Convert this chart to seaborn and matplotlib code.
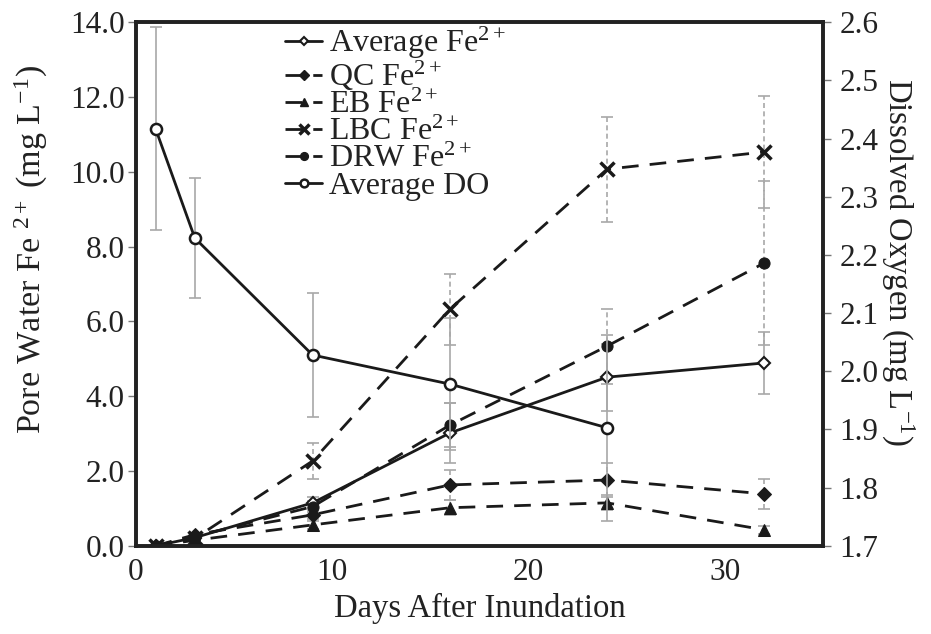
import matplotlib
matplotlib.use("Agg")
import matplotlib.pyplot as plt
import seaborn as sns
import pandas as pd
from matplotlib.lines import Line2D

# Sampling days and measured means / standard errors
days = [1, 3, 9, 16, 24, 32]
avg_fe = [0.0, 0.22, 1.15, 3.02, 4.51, 4.89]
avg_fe_err = [0.03, 0.05, 0.15, 0.8, 0.9, 0.84]
qc_fe = [0.0, 0.30, 0.83, 1.63, 1.76, 1.39]
qc_err = [0.03, 0.05, 0.12, 0.4, 0.45, 0.4]
eb_fe = [0.0, 0.15, 0.56, 1.02, 1.15, 0.43]
eb_err = [0.03, 0.05, 0.1, 0.2, 0.2, 0.1]
lbc_fe = [0.0, 0.20, 2.27, 6.33, 10.07, 10.53]
lbc_err = [0.03, 0.05, 0.47, 0.95, 1.4, 1.5]
drw_fe = [0.0, 0.25, 1.05, 3.23, 5.34, 7.56]
drw_err = [0.03, 0.05, 0.15, 0.6, 1.0, 2.2]

do_days = [1, 3, 9, 16, 24]
avg_do = [2.417, 2.229, 2.028, 1.978, 1.903]
do_err = [0.175, 0.103, 0.107, 0.113, 0.16]

fe_ticks = [0, 2, 4, 6, 8, 10, 12, 14]
do_ticks = [1.7, 1.8, 1.9, 2.0, 2.1, 2.2, 2.3, 2.4, 2.5, 2.6]
x_ticks = [0, 10, 20, 30]

sns.set_style("ticks")
plt.rcParams["font.family"] = ["Liberation Serif", "DejaVu Serif"]
plt.rcParams["mathtext.fontset"] = "custom"
plt.rcParams["mathtext.rm"] = "Liberation Serif"
plt.rcParams["mathtext.it"] = "Liberation Serif:italic"
plt.rcParams["mathtext.bf"] = "Liberation Serif:bold"

fig = plt.figure(figsize=(9.31, 6.34), dpi=100)
ax = fig.add_axes([0.146, 0.139, 0.738, 0.826])
ax2 = ax.twinx()

ink = "#1a1a1a"
err_col = "#a8a8a8"
lw = 2.0
dash = (0, (6, 4))

fe_series = [
    ("Average Fe$^{2+}$", avg_fe, avg_fe_err, dict(marker="D", markersize=6, markerfacecolor="white",
                                                   markeredgecolor=ink, markeredgewidth=1.5, linestyle="-"), "-"),
    ("QC Fe$^{2+}$", qc_fe, qc_err, dict(marker="D", markersize=7, markerfacecolor=ink,
                                          markeredgecolor=ink, linestyle=dash), "--"),
    ("EB Fe$^{2+}$", eb_fe, eb_err, dict(marker="^", markersize=9, markerfacecolor=ink,
                                          markeredgecolor=ink, linestyle=dash), "--"),
    ("LBC Fe$^{2+}$", lbc_fe, lbc_err, dict(marker="x", markersize=10, markeredgewidth=2.5,
                                             markeredgecolor=ink, linestyle=dash), "--"),
    ("DRW Fe$^{2+}$", drw_fe, drw_err, dict(marker="o", markersize=8, markerfacecolor=ink,
                                             markeredgecolor=ink, linestyle=dash), "--"),
]

handles = []
for label, vals, errs, style, err_ls in fe_series:
    eb = ax.errorbar(days, vals, yerr=errs, fmt="none", ecolor=err_col, elinewidth=1.2,
                     capsize=4, capthick=1.2, zorder=1)
    if err_ls == "--":
        eb[2][0].set_linestyle((0, (3, 2)))
    df = pd.DataFrame({"day": days, "value": vals})
    sns.lineplot(data=df, x="day", y="value", ax=ax, color=ink, linewidth=lw,
                 legend=False, zorder=3, **style)
    handles.append(Line2D([], [], color=ink, linewidth=lw, **style))

eb = ax2.errorbar(do_days, avg_do, yerr=do_err, fmt="none", ecolor=err_col, elinewidth=1.2,
                  capsize=4, capthick=1.2, zorder=1)
df_do = pd.DataFrame({"day": do_days, "value": avg_do})
do_style = dict(marker="o", markersize=8, markerfacecolor="white", markeredgecolor=ink,
                markeredgewidth=1.8, linestyle="-")
sns.lineplot(data=df_do, x="day", y="value", ax=ax2, color=ink, linewidth=lw,
             legend=False, zorder=3, **do_style)
handles.append(Line2D([], [], color=ink, linewidth=lw, **do_style))
labels = [s[0] for s in fe_series] + ["Average DO"]

ax.set_xlim(0, 35)
ax.set_ylim(0, 14)
ax2.set_ylim(1.7, 2.6)
ax.set_xticks(x_ticks)
ax.set_yticks(fe_ticks)
ax.set_yticklabels([f"{t:.1f}" for t in fe_ticks])
ax2.set_yticks(do_ticks)
ax2.set_yticklabels([f"{t:.1f}" for t in do_ticks])

tick_fs = 22.5
ax.tick_params(axis="x", length=0, pad=9, labelsize=tick_fs, colors="#222222")
ax.tick_params(axis="y", length=6, width=1, color="#777777", pad=2, labelsize=tick_fs, labelcolor="#222222")
ax2.tick_params(axis="y", length=6, width=1, color="#777777", pad=6, labelsize=tick_fs, labelcolor="#222222")

for a in (ax, ax2):
    for sp in a.spines.values():
        sp.set_linewidth(2.6)
        sp.set_color("#222222")

ax.set_xlabel("Days After Inundation", fontsize=23.5, color="#222222", labelpad=4)
ax.set_ylabel("Pore Water Fe $^{2+}$ (mg L$^{-1}$)", fontsize=24.5, color="#222222")
ax.yaxis.set_label_coords(-0.125, 0.565)
ax2.set_ylabel("Dissolved Oxygen (mg L$^{-1}$)", fontsize=23.5, color="#222222", rotation=270)
ax2.yaxis.set_label_coords(1.136, 0.542)

leg = ax2.legend(handles, labels, loc="upper left", bbox_to_anchor=(0.185, 1.038),
                 frameon=False, fontsize=23, handlelength=1.15, handletextpad=0.2,
                 labelspacing=-0.07, borderpad=0.2, markerscale=0.7)
for t in leg.get_texts():
    t.set_color("#222222")

fig.savefig("out.png", dpi=100)
